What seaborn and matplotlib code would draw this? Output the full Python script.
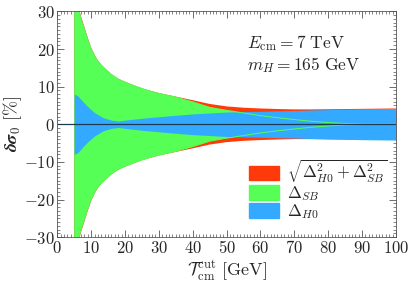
import numpy as np
import pandas as pd
import matplotlib
matplotlib.use("Agg")
import matplotlib.pyplot as plt
import seaborn as sns
from matplotlib.ticker import MultipleLocator, FuncFormatter
from matplotlib.patches import Patch

# ---- data ----
tau_cut = [5, 6, 7, 8, 9, 10, 11, 12, 13, 14, 16, 18, 20, 22.5, 25, 27.5, 30, 35,
           40, 45, 50, 55, 60, 65, 70, 75, 80, 85, 90, 95, 100]
delta_sb = [40, 31.5, 28.0, 25.3, 22.5, 20.0, 18.2, 16.7, 15.7, 14.8, 13.2, 12.0,
            11.2, 10.3, 9.5, 8.8, 8.2, 7.2, 5.95, 4.5, 3.7, 3.0, 2.3, 1.75, 1.25,
            0.8, 0.45, 0.2, 0.08, 0.02, 0.0]
delta_h0 = [8.0, 7.6, 6.6, 5.6, 4.7, 3.9, 3.1, 2.6, 2.0, 1.6, 1.1, 0.85,
            1.1, 1.35, 1.6, 1.8, 2.0, 2.4, 2.75, 3.0, 3.25, 3.35, 3.45, 3.55, 3.65,
            3.8, 3.9, 4.0, 4.1, 4.15, 4.2]
delta_tot = [40.5, 32.3, 28.7, 25.9, 23.0, 20.4, 18.5, 16.9, 15.85, 14.95, 13.3, 12.1,
             11.3, 10.4, 9.55, 8.9, 8.3, 7.35, 6.4, 5.4, 4.75, 4.4, 4.2, 4.05, 3.95,
             3.95, 4.0, 4.05, 4.1, 4.15, 4.2]

legend_labels = [r"$\sqrt{\Delta_{H0}^2+\Delta_{SB}^2}$", r"$\Delta_{SB}$", r"$\Delta_{H0}$"]

df = pd.DataFrame({"x": tau_cut, "sb": delta_sb, "h0": delta_h0, "tot": delta_tot})
df["neg_sb"] = -df["sb"]

sns.set_theme(style="ticks")
plt.rcParams["font.family"] = ["DejaVu Serif"]
plt.rcParams["mathtext.fontset"] = "cm"

c_red = "#ff3a0a"
c_green = "#55ff55"
c_blue = "#33aaff"

fig = plt.figure(figsize=(4.15, 2.85), dpi=100)
ax = fig.add_axes([0.138, 0.168, 0.816, 0.792])

ax.fill_between(df["x"], -df["tot"], df["tot"], color=c_red, lw=0)
ax.fill_between(df["x"], -df["sb"], df["sb"], color=c_green, lw=0)
ax.fill_between(df["x"], -df["h0"], df["h0"], color=c_blue, lw=0)
sns.lineplot(data=df, x="x", y="sb", ax=ax, color=c_green, lw=0.7, sort=False)
sns.lineplot(data=df, x="x", y="neg_sb", ax=ax, color=c_green, lw=0.7, sort=False)
ax.axhline(0, color="#1f3b52", lw=0.9)

ax.set_xlim(0, 100)
ax.set_ylim(-30, 30)
ax.xaxis.set_major_locator(MultipleLocator(10))
ax.xaxis.set_minor_locator(MultipleLocator(1))
ax.yaxis.set_major_locator(MultipleLocator(10))
ax.yaxis.set_minor_locator(MultipleLocator(1))
fmt = FuncFormatter(lambda v, p: r"$\mathbf{%d}$" % int(round(v)) if v >= 0
                    else r"$-\mathbf{%d}$" % int(round(-v)))
ax.xaxis.set_major_formatter(fmt)
ax.yaxis.set_major_formatter(fmt)
ax.tick_params(which="both", direction="in", top=True, right=True,
               color="#555555", labelsize=12, pad=2)
ax.tick_params(which="major", length=5, width=0.6)
ax.tick_params(which="minor", length=2.2, width=0.5)
for s in ax.spines.values():
    s.set_linewidth(0.6)
    s.set_color("#555555")

ax.set_xlabel(r"$\mathcal{T}_{\rm cm}^{\rm cut}\ [\rm GeV]$", fontsize=13, labelpad=1)
ax.set_ylabel(r"$\boldsymbol{\delta\sigma}_0\ [\%]$", fontsize=13, labelpad=0)

ax.text(0.56, 0.905, r"$E_{\rm cm}=7\ {\rm TeV}$", transform=ax.transAxes,
        fontsize=12.5, va="top", ha="left")
ax.text(0.56, 0.805, r"$m_H=165\ {\rm GeV}$", transform=ax.transAxes,
        fontsize=12.5, va="top", ha="left")

handles = [Patch(color=c_red), Patch(color=c_green), Patch(color=c_blue)]
ax.legend(handles, legend_labels, loc="lower right", frameon=False, fontsize=12,
          handlelength=1.8, handleheight=0.95, handletextpad=0.45, labelspacing=-0.05,
          borderaxespad=0.0, bbox_to_anchor=(0.995, 0.042))

fig.savefig("out.png", dpi=100)
